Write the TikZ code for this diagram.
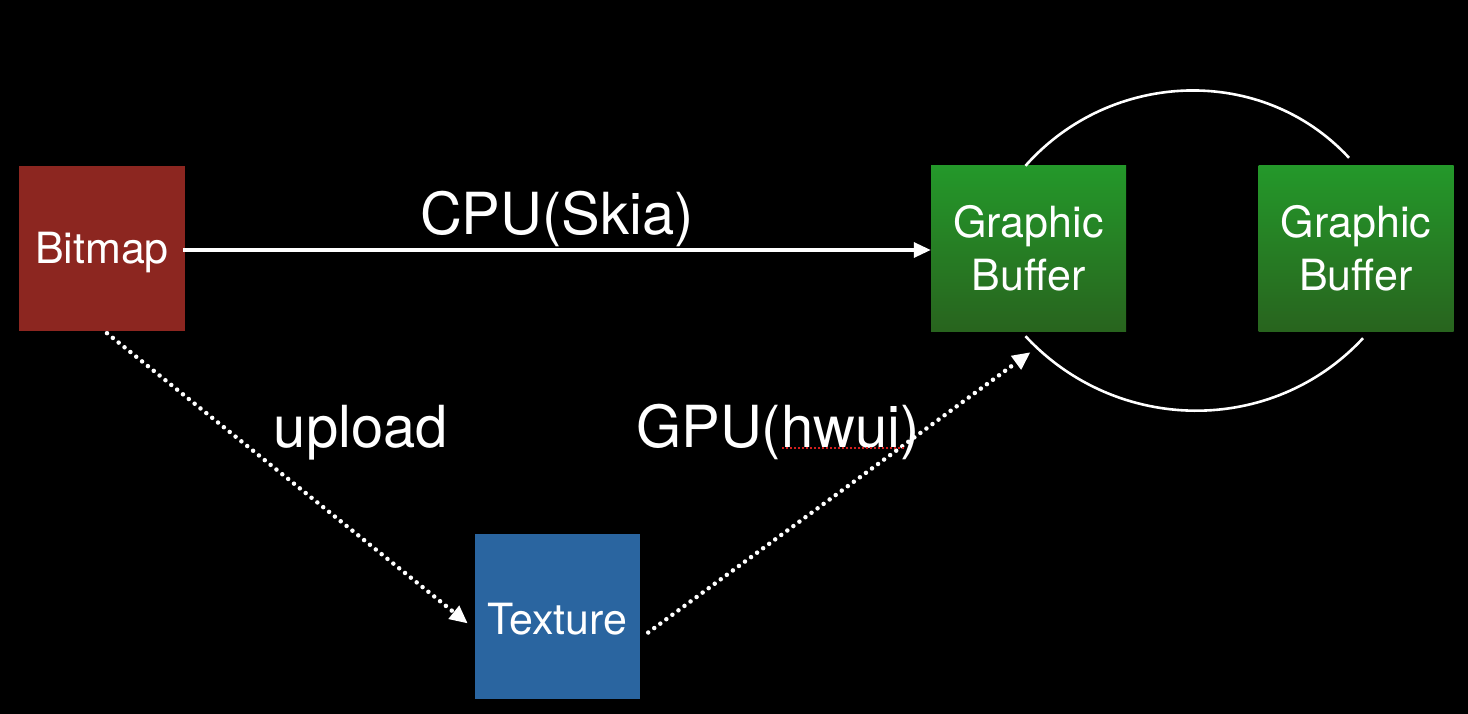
\documentclass[tikz,border=0pt]{standalone}
\usepackage{fontspec}
\setmainfont{TeX Gyre Heros}
\usetikzlibrary{arrows.meta}
\definecolor{bmred}{RGB}{140,38,32}
\definecolor{texblue}{RGB}{42,101,160}
\definecolor{gbtop}{RGB}{36,152,42}
\definecolor{gbbot}{RGB}{40,100,30}
\definecolor{squig}{RGB}{210,30,30}
\begin{document}
\begin{tikzpicture}[x=1pt,y=-1pt,
  box/.style={minimum height=165pt,inner sep=0pt,text=white,
    font=\fontsize{43}{53}\selectfont,align=center},
  onebox/.style={box,text height=31pt,text depth=0pt},
  redbox/.style={onebox,fill=bmred,minimum width=166pt},
  bluebox/.style={onebox,text height=35pt,fill=texblue,minimum width=165pt},
  greenbox/.style={box,top color=gbtop,bottom color=gbbot,minimum width=195pt},
  lbl/.style={text=white,font=\fontsize{58}{62}\selectfont,inner sep=0pt,anchor=base},
  solidarrow/.style={draw=white,line width=3.2pt,-{Triangle[length=17pt,width=15pt]}},
  dotarrow/.style={draw=white,line width=4.5pt,dash pattern=on 0pt off 7.5pt,line cap=round,
    -{Triangle[length=18pt,width=16pt]}},
  arcline/.style={draw=white,line width=2.6pt}]
\fill[black] (0,0) rectangle (1468,714);
\useasboundingbox (0,0) rectangle (1468,714);

\node[redbox] (bm) at (102,248.5) {Bitmap};
\node[bluebox] (tex) at (557.5,616.5) {Texture};
\node[greenbox] (gb1) at (1028.5,248.5) {Graphic\\Buffer};
\node[greenbox] (gb2) at (1356,248.5) {Graphic\\Buffer};

\node[lbl] (cpu) at (557,235) {CPU(Skia)};
\node[lbl] (upl) at (361,447) {upload};
\node[lbl] (gpu) at (778,447) {GPU(hwui)};

\draw[solidarrow] ([xshift=-2pt,yshift=-1.5pt]bm.east) -- ([yshift=-1.5pt]gb1.west);
\draw[dotarrow] ([xshift=5pt,yshift=-2pt]bm.south) -- ([xshift=-7pt,yshift=-7pt]tex.west);
\draw[dotarrow] ([xshift=8pt,yshift=-16pt]tex.east) -- ([xshift=2pt,yshift=-21pt]gb1.south);

\draw[arcline] ([xshift=-3pt]gb1.north) .. controls +(85,-96) and +(-87,-94) .. ([xshift=-7pt,yshift=8pt]gb2.north);
\draw[arcline] ([xshift=-3pt,yshift=-5pt]gb1.south) .. controls +(91,98) and +(-91,98) .. ([xshift=7pt,yshift=-7pt]gb2.south);

\coordinate (sqa) at (782,448);
\coordinate (sqb) at (905,448);
\draw[squig,line width=2.2pt,dash pattern=on 2.2pt off 1.8pt] (sqa) -- (sqb);
\end{tikzpicture}
\end{document}
